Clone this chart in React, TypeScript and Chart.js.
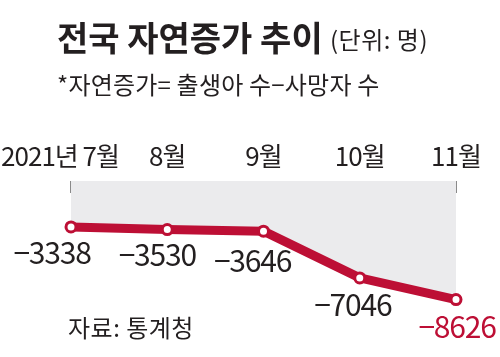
import React, { useEffect, useRef } from "react";
import { Chart, registerables } from "chart.js";

Chart.register(...registerables);

const categories = ["2021년 7월", "8월", "9월", "10월", "11월"];
const values = [-3338, -3530, -3646, -7046, -8626];
const valueLabels = ["−3338", "−3530", "−3646", "−7046", "−8626"];

const RED = "#bd0f35";
const GRAY = "#ebebed";
const INK = "#231f20";
const KR = '"Noto Sans CJK KR", "Noto Sans", sans-serif';

// label offsets relative to each point (layout only)
const labelDX = [-19, -10, -11, -7, 1];
const labelDY = [26, 25, 29, 27, 27];
const tickDX = [-11, 0, 0, 0, 0];

const textPlugin = {
  id: "texts",
  beforeDatasetsDraw(chart: any) {
    const { ctx, scales } = chart;
    const x = scales.x;
    const top = chart.chartArea.top;
    ctx.save();
    ctx.strokeStyle = "#8a8a8a";
    ctx.lineWidth = 2;
    categories.forEach((_, i) => {
      const px = Math.round(x.getPixelForValue(i));
      ctx.beginPath();
      ctx.moveTo(px, top);
      ctx.lineTo(px, top + 12);
      ctx.stroke();
    });
    ctx.restore();
  },
  afterDraw(chart: any) {
    const { ctx, scales } = chart;
    const x = scales.x;
    const y = scales.y;
    ctx.save();
    ctx.textBaseline = "middle";
    ctx.fillStyle = INK;
    ctx.textAlign = "left";
    ctx.font = `bold 34px ${KR}`;
    (ctx as any).letterSpacing = "0px";
    ctx.fillText("전국 자연증가 추이", 57, 38);
    ctx.font = `24px ${KR}`;
    (ctx as any).letterSpacing = "0.5px";
    ctx.fillText("(단위: 명)", 330, 40);
    ctx.font = `24px ${KR}`;
    (ctx as any).letterSpacing = "0.2px";
    ctx.fillText("*자연증가= 출생아 수−사망자 수", 57, 85);
    ctx.font = `24px ${KR}`;
    (ctx as any).letterSpacing = "0.5px";
    ctx.fillText("자료: 통계청", 68, 328);
    ctx.textAlign = "center";
    ctx.font = `26px ${KR}`;
    (ctx as any).letterSpacing = "-1px";
    categories.forEach((c, i) => {
      ctx.fillText(c, x.getPixelForValue(i) + tickDX[i], 156);
    });
    ctx.font = `30px ${KR}`;
    (ctx as any).letterSpacing = "-1.2px";
    values.forEach((v, i) => {
      ctx.fillStyle = i === values.length - 1 ? RED : INK;
      ctx.fillText(valueLabels[i], x.getPixelForValue(i) + labelDX[i], y.getPixelForValue(v) + labelDY[i]);
    });
    ctx.restore();
  },
};

export default function App() {
  const ref = useRef<HTMLCanvasElement>(null);
  useEffect(() => {
    document.body.style.margin = "0";
    const chart = new Chart(ref.current!, {
      type: "line",
      data: {
        labels: categories,
        datasets: [
          {
            data: values,
            borderColor: RED,
            borderWidth: 9,
            fill: "end",
            backgroundColor: GRAY,
            pointRadius: 5,
            pointBorderWidth: 3,
            pointBackgroundColor: "#ffffff",
            pointBorderColor: RED,
            tension: 0,
            borderJoinStyle: "round",
            borderCapStyle: "round",
          },
        ],
      },
      options: {
        animation: false,
        responsive: false,
        events: [],
        layout: { padding: { left: 71, right: 44, top: 181, bottom: 11 } },
        plugins: { legend: { display: false }, tooltip: { enabled: false }, title: { display: false } },
        scales: {
          x: { type: "category", display: false, offset: false },
          y: { display: false, min: -12000, max: 0 },
        },
      },
      plugins: [textPlugin],
    });
    return () => chart.destroy();
  }, []);
  return <canvas ref={ref} width={500} height={357} style={{ display: "block" }} />;
}
